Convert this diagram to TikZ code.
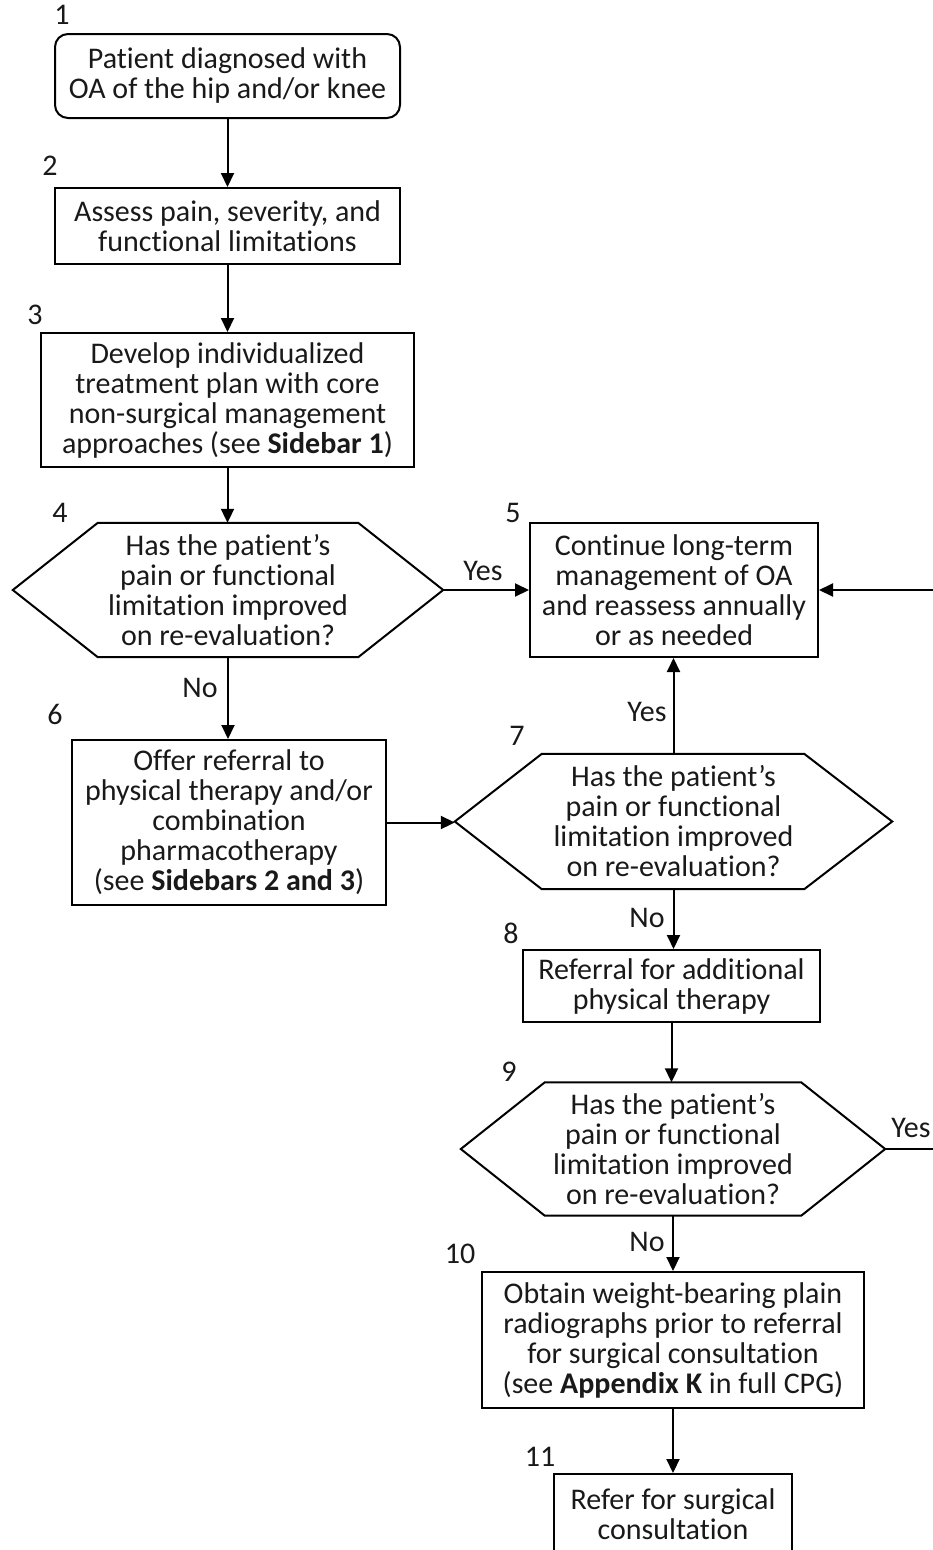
\documentclass[tikz,border=0pt]{standalone}
\usepackage{fontspec}
\setmainfont{Carlito}[Ligatures=NoCommon]
\usetikzlibrary{arrows.meta,calc}
\begin{document}
\begin{tikzpicture}[x=1pt,y=-1pt,
  every node/.style={font=\fontsize{30}{30}\selectfont, text=black!90},
  box/.style={draw=black, line width=2pt, align=center, inner sep=0pt},
  hexnode/.style={align=center, inner sep=0pt},
  hexline/.style={draw=black, line width=2pt, line join=miter},
  num/.style={inner sep=0pt},
  lbl/.style={inner sep=0pt},
  conn/.style={line width=2pt, -{Triangle[length=14pt,width=13pt]}}
]
\useasboundingbox (0,0) rectangle (932,1550);

% step nodes
\node[box, rounded corners=13pt, minimum width=345pt, minimum height=84pt] (n1) at (227.5,76) {Patient diagnosed with\\OA of the hip and/or knee};
\node[box, minimum width=345pt, minimum height=76pt] (n2) at (227.5,226) {Assess pain, severity, and\\functional limitations};
\node[box, minimum width=373pt, minimum height=134pt] (n3) at (227.5,400) {Develop individualized\\treatment plan with core\\non-surgical management\\approaches (see \textbf{Sidebar 1})};
\node[hexnode, minimum width=430pt, minimum height=134pt] (d4) at (228,590) {Has the patient’s\\pain or functional\\limitation improved\\on re-evaluation?};
\node[box, minimum width=288pt, minimum height=134pt] (n5) at (674,590) {Continue long-term\\management of OA\\and reassess annually\\or as needed};
\node[box, minimum width=314pt, minimum height=165pt] (n6) at (229,822.5) {Offer referral to\\physical therapy and/or\\combination\\pharmacotherapy\\(see \textbf{Sidebars 2 and 3})};
\node[hexnode, minimum width=437pt, minimum height=135pt] (d7) at (673.5,821.5) {Has the patient’s\\pain or functional\\limitation improved\\on re-evaluation?};
\node[box, minimum width=297pt, minimum height=72pt] (n8) at (671.5,986) {Referral for additional\\physical therapy};
\node[hexnode, minimum width=424pt, minimum height=133pt] (d9) at (673,1149) {Has the patient’s\\pain or functional\\limitation improved\\on re-evaluation?};
\node[box, minimum width=382pt, minimum height=136pt] (n10) at (673,1340) {Obtain weight-bearing plain\\radiographs prior to referral\\for surgical consultation\\(see \textbf{Appendix K} in full CPG)};
\node[box, minimum width=238pt, minimum height=80pt] (n11) at (673,1514) {Refer for surgical\\consultation};

% hexagon outlines
\draw[hexline] (d4.west) -- ([xshift=85pt]d4.north west) -- ([xshift=-85pt]d4.north east) -- (d4.east) -- ([xshift=-85pt]d4.south east) -- ([xshift=85pt]d4.south west) -- cycle;
\draw[hexline] (d7.west) -- ([xshift=87pt]d7.north west) -- ([xshift=-88pt]d7.north east) -- (d7.east) -- ([xshift=-88pt]d7.south east) -- ([xshift=87pt]d7.south west) -- cycle;
\draw[hexline] (d9.west) -- ([xshift=84pt]d9.north west) -- ([xshift=-84pt]d9.north east) -- (d9.east) -- ([xshift=-84pt]d9.south east) -- ([xshift=84pt]d9.south west) -- cycle;

% step numbers
\node[num] (k1) at (62,15) {1};
\node[num] (k2) at (50,166) {2};
\node[num] (k3) at (35,315) {3};
\node[num] (k4) at (60,513) {4};
\node[num] (k5) at (513,513) {5};
\node[num] (k6) at (55,714) {6};
\node[num] (k7) at (517,736) {7};
\node[num] (k8) at (511,933) {8};
\node[num] (k9) at (509,1072) {9};
\node[num] (k10) at (460,1254) {10};
\node[num] (k11) at (540,1457) {11};

% connectors
\draw[conn] (n1.south) -- (n1.south |- n2.north);
\draw[conn] (n2.south) -- (n2.south |- n3.north);
\draw[conn] (n3.south) -- (n3.south |- d4.north);
\draw[conn] (d4.east) -- (d4.east -| n5.west);
\draw[conn] (d4.south) -- (d4.south |- n6.north);
\draw[conn] (n6.east) -- (n6.east -| d7.west);
\draw[conn] (d7.north) -- (d7.north |- n5.south);
\draw[conn] (d7.south) -- (d7.south |- n8.north);
\draw[conn] (n8.south) -- (n8.south |- d9.north);
\draw[conn] (d9.south) -- (d9.south |- n10.north);
\draw[conn] (n10.south) -- (n10.south |- n11.north);
\draw[conn] (d9.east) -- ++(70pt,0) |- (n5.east);

% connector labels
\node[lbl] (y4) at (483,571) {Yes};
\node[lbl] (no4) at (200,688) {No};
\node[lbl] (y7) at (647,712) {Yes};
\node[lbl] (no7) at (647,918) {No};
\node[lbl] (y9) at (911,1128) {Yes};
\node[lbl] (no9) at (647,1242) {No};
\end{tikzpicture}
\end{document}
